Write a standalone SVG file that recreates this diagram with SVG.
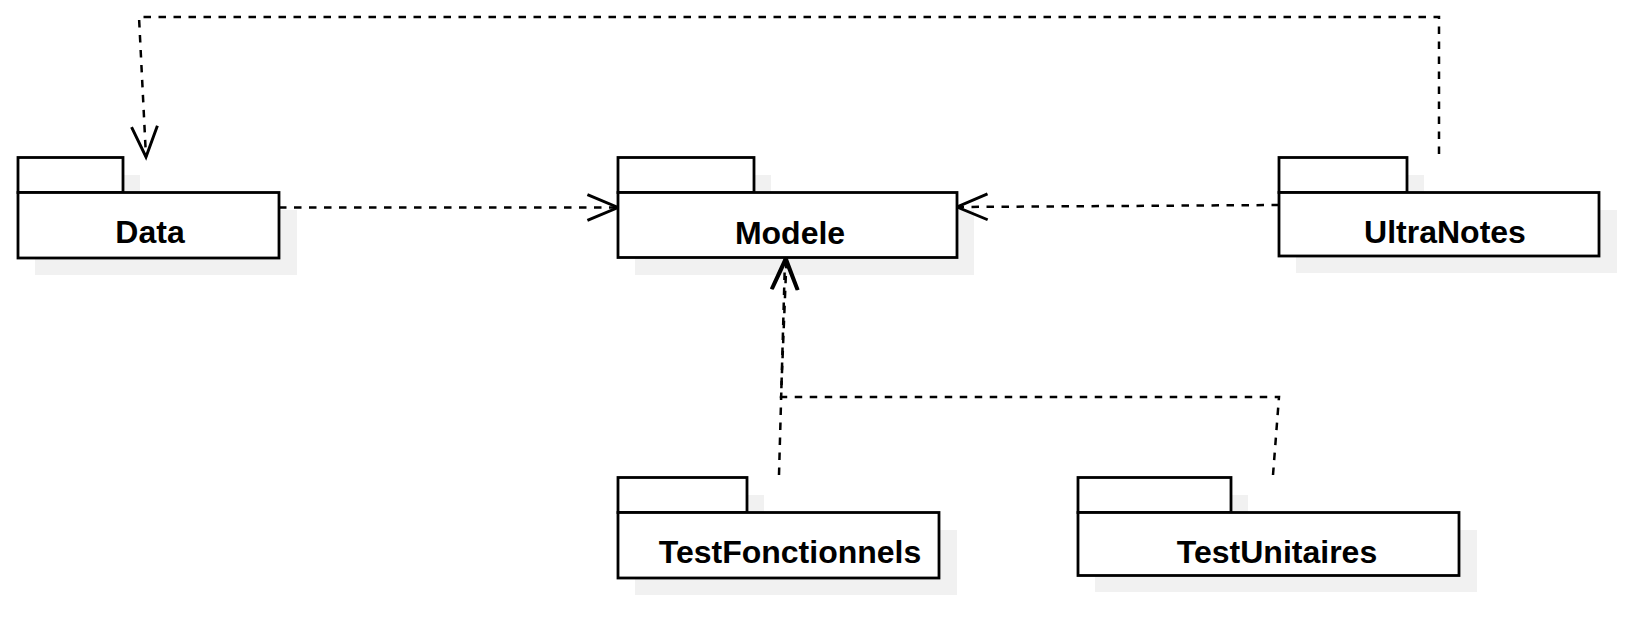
<svg xmlns="http://www.w3.org/2000/svg" width="1641" height="625" viewBox="0 0 1641 625">
<style>
.shadow{fill:#f1f1f1;stroke:none}
.pkg{fill:#ffffff;stroke:#000000;stroke-width:2.8}
.lbl{font-family:"Liberation Sans",Arial,sans-serif;font-weight:bold;font-size:32px;fill:#000000;text-anchor:middle}
.dep{fill:none;stroke:#000000;stroke-width:2.5;stroke-dasharray:7.5 7.5;marker-end:url(#open)}
</style>
<defs>
<marker id="open" markerUnits="userSpaceOnUse" markerWidth="40" markerHeight="40" viewBox="-30 -15 34 30" refX="0" refY="0" orient="auto">
<path d="M -26 -11 L 0 0 L -26 11" fill="none" stroke="#000000" stroke-width="2.5" stroke-dasharray="none"/>
</marker>
</defs>
<rect width="1641" height="625" fill="#ffffff"/>
<g id="shadows">
<rect class="shadow" x="35" y="175" width="105" height="36"/>
<rect class="shadow" x="35" y="210" width="262" height="65"/>
<rect class="shadow" x="635" y="175" width="136" height="36"/>
<rect class="shadow" x="635" y="210" width="339" height="65"/>
<rect class="shadow" x="1296" y="175" width="128" height="36"/>
<rect class="shadow" x="1296" y="210" width="321" height="63"/>
<rect class="shadow" x="635" y="495" width="129" height="36"/>
<rect class="shadow" x="635" y="530" width="322" height="65"/>
<rect class="shadow" x="1095" y="495" width="153" height="36"/>
<rect class="shadow" x="1095" y="530" width="382" height="62"/>
</g>
<g id="connectors">
<path class="dep" d="M 1439 154 L 1439 17 L 139 17 L 146 157"/>
<path class="dep" d="M 279 207.5 L 618 207.5"/>
<path class="dep" d="M 1279 205 L 957 207"/>
<path class="dep" d="M 779 475 L 785 259"/>
<path class="dep" d="M 1273 475 L 1279 397 L 781 397 L 786.5 259"/>
</g>
<g id="Data">
<rect class="pkg" x="18" y="157.5" width="105" height="35"/>
<rect class="pkg" x="18" y="192.5" width="261" height="65.5"/>
<text class="lbl" x="150" y="243">Data</text>
</g>
<g id="Modele">
<rect class="pkg" x="618" y="157.5" width="136" height="35"/>
<rect class="pkg" x="618" y="192.5" width="339" height="65"/>
<text class="lbl" x="790" y="244">Modele</text>
</g>
<g id="UltraNotes">
<rect class="pkg" x="1279" y="157.5" width="128" height="35"/>
<rect class="pkg" x="1279" y="192.5" width="320" height="63.5"/>
<text class="lbl" x="1445" y="243">UltraNotes</text>
</g>
<g id="TestFonctionnels">
<rect class="pkg" x="618" y="477.5" width="129" height="35"/>
<rect class="pkg" x="618" y="512.5" width="321" height="65.5"/>
<text class="lbl" x="790" y="563">TestFonctionnels</text>
</g>
<g id="TestUnitaires">
<rect class="pkg" x="1078" y="477.5" width="153" height="35"/>
<rect class="pkg" x="1078" y="512.5" width="381" height="63"/>
<text class="lbl" x="1277" y="563">TestUnitaires</text>
</g>
</svg>
